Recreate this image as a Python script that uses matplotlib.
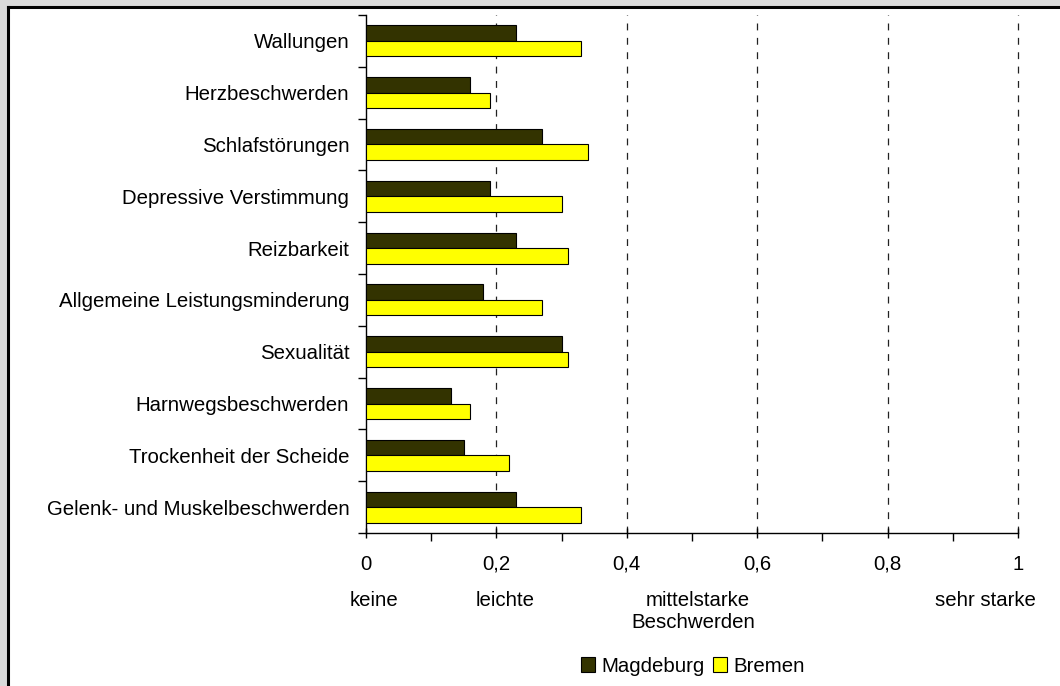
import matplotlib.pyplot as plt
import numpy as np
from matplotlib.patches import Rectangle
from matplotlib.ticker import MultipleLocator, FixedLocator

plt.rcParams['font.family'] = ['Liberation Sans', 'DejaVu Sans']

# Beschwerden, von oben nach unten
kategorien = ["Wallungen", "Herzbeschwerden", "Schlafstörungen",
              "Depressive Verstimmung", "Reizbarkeit",
              "Allgemeine Leistungsminderung", "Sexualität",
              "Harnwegsbeschwerden", "Trockenheit der Scheide",
              "Gelenk- und Muskelbeschwerden"]
magdeburg = [0.23, 0.16, 0.27, 0.19, 0.23, 0.18, 0.30, 0.13, 0.15, 0.23]
bremen = [0.33, 0.19, 0.34, 0.30, 0.31, 0.27, 0.31, 0.16, 0.22, 0.33]
x_ticks = [0, 0.2, 0.4, 0.6, 0.8, 1]
x_labels = ["0", "0,2", "0,4", "0,6", "0,8", "1"]

FS = 14.7
W, H = 1060, 686
fig = plt.figure(figsize=(W / 100, H / 100), dpi=100)
fig.patch.set_facecolor('#d9d9d9')

# weisser Rahmen mit schwarzer Linie oben und links
fig.patches.append(Rectangle((7 / W, 0), 1, 1 - 6 / H, transform=fig.transFigure,
                             facecolor='white', edgecolor='none', zorder=-10))
fig.lines.append(plt.Line2D([7.5 / W, 7.5 / W], [0, 1 - 6.5 / H], transform=fig.transFigure,
                            color='black', lw=2.2, zorder=-5))
fig.lines.append(plt.Line2D([7.5 / W, 1], [1 - 6.5 / H, 1 - 6.5 / H], transform=fig.transFigure,
                            color='black', lw=2.2, zorder=-5))

ax = fig.add_axes([366 / W, 1 - 533 / H, (1018 - 366) / W, (533 - 15) / H])
ax.set_facecolor('none')

n = len(kategorien)
y = np.arange(n)[::-1]
h = 0.3
ax.barh(y + h / 2, magdeburg, height=h, color='#333300', edgecolor='black', lw=0.8,
        label='Magdeburg', zorder=3)
ax.barh(y - h / 2, bremen, height=h, color='#ffff00', edgecolor='black', lw=0.8,
        label='Bremen', zorder=3)

ax.set_xlim(0, 1)
ax.set_ylim(-0.5, n - 0.5)

ax.set_yticks(y)
ax.set_yticklabels(kategorien, fontsize=FS)
ax.yaxis.set_minor_locator(FixedLocator(np.arange(n + 1) - 0.5))
ax.tick_params(axis='y', which='major', length=0, pad=12)
ax.tick_params(axis='y', which='minor', length=6, width=1, direction='out')

ax.set_xticks(x_ticks)
ax.set_xticklabels(x_labels, fontsize=FS)
ax.xaxis.set_minor_locator(MultipleLocator(0.1))
ax.tick_params(axis='x', which='major', length=7, width=1, direction='inout', pad=12)
ax.tick_params(axis='x', which='minor', length=6, width=1, direction='out')

for v in x_ticks[1:]:
    ax.axvline(v, color='#222222', lw=0.9, ls=(0, (5.5, 6)), zorder=1, clip_on=False)

for s in ['top', 'right']:
    ax.spines[s].set_visible(False)
for s in ['left', 'bottom']:
    ax.spines[s].set_linewidth(1)

# Beschriftung der Skala
for txt, xp in [("keine", 374), ("leichte", 505), ("mittelstarke", 698), ("sehr starke", 985)]:
    fig.text(xp / W, 1 - 601 / H, txt, ha='center', va='center', fontsize=FS)
fig.text(693 / W, 1 - 622 / H, "Beschwerden", ha='center', va='center', fontsize=FS)

fig.legend(loc='center', bbox_to_anchor=(693 / W, 1 - 666 / H), ncol=2, frameon=False,
           fontsize=FS, handlelength=0.7, handleheight=0.7, handletextpad=0.3,
           columnspacing=0.4)

fig.savefig('out.png', dpi=100, facecolor=fig.get_facecolor())
